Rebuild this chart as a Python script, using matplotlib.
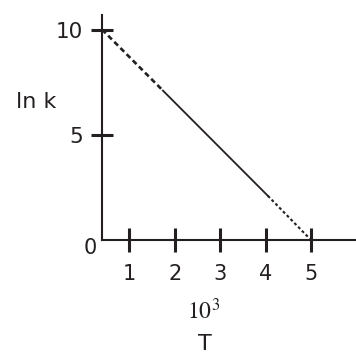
import matplotlib
matplotlib.use("Agg")
import matplotlib.pyplot as plt

plt.rcParams["mathtext.fontset"] = "stix"

# ---- data ----
line_x = [0.4, 1.74, 4.05, 5.0]
line_y = [10.0, 7.1, 2.1, 0.0]
xticks = [1, 2, 3, 4, 5]
xticklabels = ["1", "2", "3", "4", "5"]
yticks = [5, 10]
yticklabels = ["5", "10"]

INK = "#231f20"
W = H = 356

fig = plt.figure(figsize=(3.56, 3.56), dpi=100)
fig.patch.set_facecolor("white")

ax = fig.add_axes([102 / W, 1 - 240 / H, (W - 102) / W, 225 / H])
ax.patch.set_alpha(0)
ax.set_xlim(0.4, 5.99)
ax.set_ylim(0, 10.69)

for s in ["top", "right"]:
    ax.spines[s].set_visible(False)
for s in ["left", "bottom"]:
    ax.spines[s].set_linewidth(1.5)
    ax.spines[s].set_color(INK)

ax.plot(line_x[0:2], line_y[0:2], color=INK, lw=1.9, dashes=(2.0, 1.3))
ax.plot(line_x[1:3], line_y[1:3], color=INK, lw=1.3)
ax.plot(line_x[2:4], line_y[2:4], color=INK, lw=1.5, dashes=(1.4, 1.2))

ax.set_xticks(xticks)
ax.set_xticklabels(xticklabels)
ax.set_yticks(yticks)
ax.set_yticklabels(yticklabels)
ax.tick_params(axis="x", direction="inout", length=17, width=2.2,
               color=INK, labelsize=15, labelcolor=INK, pad=9)
ax.tick_params(axis="y", direction="inout", length=16.5, width=2.2,
               color=INK, labelsize=15.5, labelcolor=INK, pad=5.5)

fig.text(90.5 / W, 1 - 248 / H, "0", fontsize=15, color=INK,
         ha="center", va="center")
fig.text(36.5 / W, 1 - 102 / H, "ln k", fontsize=16, color=INK,
         ha="center", va="center")
fig.text(204 / W, 1 - 311 / H, r"$\mathrm{10^{3}}$", fontsize=17, color=INK,
         ha="center", va="center")
fig.text(205 / W, 1 - 350 / H, "T", fontsize=16, color=INK,
         ha="center", va="baseline")

fig.savefig("out.png", dpi=100)
